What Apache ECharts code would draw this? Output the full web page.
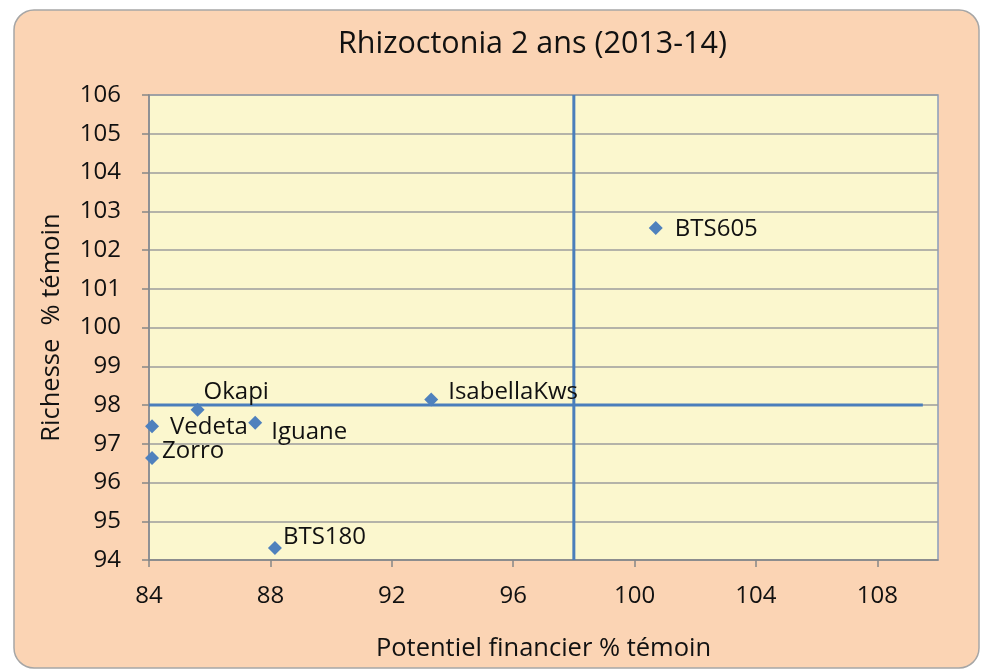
<!DOCTYPE html>
<html>
<head>
<meta charset="utf-8">
<script src="https://cdn.jsdelivr.net/npm/echarts@6/dist/echarts.min.js"></script>
<style>
  html, body { margin: 0; padding: 0; background: #ffffff; }
  #chart { width: 985px; height: 670px; }
</style>
</head>
<body>
<!-- conteneur du graphique -->
<div id="chart"></div>
<script>
// données
var varietes = ['BTS605', 'IsabellaKws', 'Okapi', 'Vedeta', 'Iguane', 'Zorro', 'BTS180']
var potentiel = [100.7, 93.3, 85.6, 84.1, 87.5, 84.1, 88.15]
var richesse = [102.57, 98.14, 97.88, 97.45, 97.54, 96.63, 94.31]
var ligneH = [[84, 98], [109.5, 98]]
var ligneV = [[98, 94], [98, 106]]

// décalage des étiquettes (style seulement)
var decalages = [[7, 1], [5, -7], [-6, -17], [6, 1], [4, 9], [-2, -7], [-4, -11]]

var police = '"Open Sans", "Noto Sans", sans-serif'
var couleurTexte = '#111111'

var points = varietes.map(function (nom, i) {
  return {
    name: nom,
    value: [potentiel[i], richesse[i]],
    label: { offset: decalages[i] }
  }
})

var chart = echarts.init(document.getElementById('chart'))
chart.setOption({
  animation: false,
  graphic: [
    {
      type: 'rect',
      z: -10,
      silent: true,
      shape: { x: 14, y: 10, width: 965, height: 658, r: 20 },
      style: { fill: '#fbd4b4', stroke: '#a6a6a6', lineWidth: 1.5 }
    }
  ],
  title: {
    text: 'Rhizoctonia 2 ans (2013-14)',
    left: 333,
    top: 24,
    textStyle: {
      fontFamily: police,
      fontSize: 30.5,
      fontWeight: 'normal',
      color: couleurTexte
    }
  },
  grid: {
    left: 149,
    right: 47,
    top: 95,
    bottom: 110,
    show: true,
    backgroundColor: '#fbf7ce',
    borderColor: '#8a9cbc',
    borderWidth: 1.5
  },
  xAxis: {
    type: 'value',
    min: 84,
    max: 110,
    interval: 4,
    name: 'Potentiel financier % témoin',
    nameLocation: 'middle',
    nameGap: 76,
    nameTextStyle: { fontFamily: police, fontSize: 25.5, color: couleurTexte },
    axisLine: { show: true, onZero: false, lineStyle: { color: '#878787', width: 1.5 } },
    axisTick: { show: true, length: 7, lineStyle: { color: '#878787', width: 1.5 } },
    axisLabel: {
      showMaxLabel: false,
      margin: 24,
      fontFamily: police,
      fontSize: 24,
      color: couleurTexte
    },
    splitLine: { show: false }
  },
  yAxis: {
    type: 'value',
    min: 94,
    max: 106,
    interval: 1,
    name: 'Richesse  % témoin',
    nameLocation: 'middle',
    nameGap: 84,
    nameTextStyle: { fontFamily: police, fontSize: 25.5, color: couleurTexte },
    axisLine: { show: true, onZero: false, lineStyle: { color: '#878787', width: 1.5 } },
    axisTick: { show: true, length: 7, lineStyle: { color: '#878787', width: 1.5 } },
    axisLabel: {
      margin: 28,
      fontFamily: police,
      fontSize: 24,
      color: couleurTexte
    },
    splitLine: { show: true, lineStyle: { color: '#9c9c9c', width: 1.5 } }
  },
  series: [
    {
      type: 'line',
      data: ligneH,
      showSymbol: false,
      silent: true,
      z: 2,
      lineStyle: { color: '#4a7ebb', width: 3 }
    },
    {
      type: 'line',
      data: ligneV,
      showSymbol: false,
      silent: true,
      z: 2,
      lineStyle: { color: '#4a7ebb', width: 3 }
    },
    {
      type: 'scatter',
      data: points,
      symbol: 'diamond',
      symbolSize: 14,
      z: 3,
      itemStyle: { color: '#4f81bd', opacity: 1 },
      label: {
        show: true,
        position: 'right',
        distance: 5,
        formatter: '{b}',
        fontFamily: police,
        fontSize: 24,
        color: couleurTexte
      }
    }
  ]
})
</script>
</body>
</html>
